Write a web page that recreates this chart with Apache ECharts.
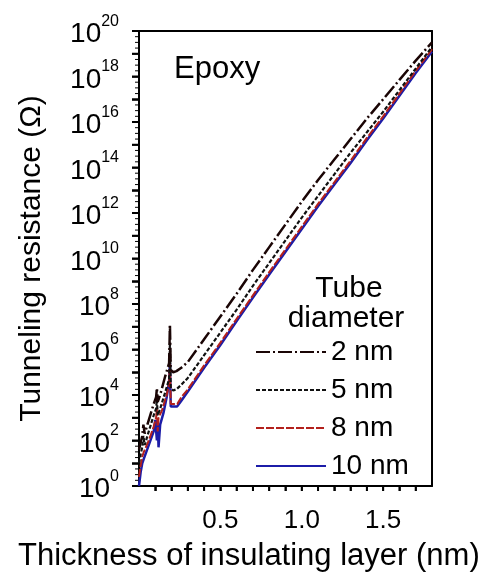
<!DOCTYPE html>
<html>
<head>
<meta charset="utf-8">
<script src="https://cdn.jsdelivr.net/npm/echarts@6/dist/echarts.min.js"></script>
<style>
html,body{margin:0;padding:0;background:#fff;}
#chart{width:481px;height:578px;background:#fff;}
</style>
</head>
<body>
<div id="chart"></div>
<script>
// Thickness of insulating layer (nm) and log10 of tunneling resistance (Ω)
const x_2nm = [0.0, 0.01, 0.02, 0.027, 0.035, 0.06, 0.09, 0.105, 0.11, 0.115, 0.13, 0.16, 0.185, 0.19, 0.195, 0.21, 0.23, 0.26, 0.3, 0.4, 0.5, 0.6, 0.7, 0.8, 0.9, 1.0, 1.1, 1.2, 1.3, 1.4, 1.5, 1.6, 1.7, 1.8];
const logR_2nm = [1.6, 1.9, 2.2, 2.7, 2.3, 2.9, 3.6, 3.9, 4.3, 3.7, 4.0, 4.8, 5.4, 7.1, 5.1, 5.0, 5.05, 5.2, 5.45, 6.45, 7.45, 8.45, 9.5, 10.5, 11.5, 12.5, 13.45, 14.35, 15.25, 16.15, 17.0, 17.85, 18.7, 19.5];

const x_5nm = [0.0, 0.01, 0.02, 0.027, 0.035, 0.06, 0.09, 0.105, 0.11, 0.115, 0.13, 0.16, 0.185, 0.19, 0.195, 0.21, 0.23, 0.26, 0.3, 0.4, 0.5, 0.6, 0.7, 0.8, 0.9, 1.0, 1.1, 1.2, 1.3, 1.4, 1.5, 1.6, 1.7, 1.8];
const logR_5nm = [1.0, 1.4, 1.7, 2.2, 1.8, 2.4, 3.1, 3.4, 3.8, 3.1, 3.4, 4.1, 4.7, 6.3, 4.3, 4.2, 4.25, 4.45, 4.75, 5.75, 6.75, 7.75, 8.8, 9.8, 10.8, 11.8, 12.75, 13.7, 14.65, 15.55, 16.45, 17.4, 18.35, 19.3];

const x_8nm = [0.0, 0.01, 0.02, 0.03, 0.06, 0.09, 0.105, 0.11, 0.115, 0.12, 0.14, 0.17, 0.185, 0.19, 0.195, 0.235, 0.26, 0.3, 0.4, 0.5, 0.6, 0.7, 0.8, 0.9, 1.0, 1.1, 1.2, 1.3, 1.4, 1.5, 1.6, 1.7, 1.8];
const logR_8nm = [0.4, 0.9, 1.3, 1.5, 2.0, 2.6, 3.0, 3.4, 2.4, 3.0, 3.3, 4.0, 4.5, 5.6, 3.6, 3.6, 3.9, 4.25, 5.3, 6.3, 7.35, 8.38, 9.4, 10.4, 11.4, 12.4, 13.35, 14.3, 15.3, 16.25, 17.25, 18.25, 19.2];

const x_10nm = [0.0, 0.01, 0.02, 0.03, 0.06, 0.09, 0.1, 0.11, 0.115, 0.12, 0.13, 0.15, 0.17, 0.185, 0.19, 0.195, 0.235, 0.26, 0.3, 0.4, 0.5, 0.6, 0.7, 0.8, 0.9, 1.0, 1.1, 1.2, 1.3, 1.4, 1.5, 1.6, 1.7, 1.8];
const logR_10nm = [0.0, 0.6, 1.0, 1.2, 1.8, 2.4, 2.9, 2.0, 2.9, 1.7, 2.7, 3.2, 3.9, 4.6, 5.4, 3.5, 3.5, 3.75, 4.15, 5.2, 6.2, 7.25, 8.28, 9.3, 10.3, 11.3, 12.3, 13.25, 14.2, 15.2, 16.15, 17.15, 18.15, 19.1];

const seriesNames = ['2 nm', '5 nm', '8 nm', '10 nm'];
const xTickLabels = ['0.0', '0.5', '1.0', '1.5', '1.8'];

function toData(xs, ls) { return xs.map((x, i) => [x, Math.pow(10, ls[i])]); }

const FONT = 'Liberation Sans, Arial, sans-serif';
const chart = echarts.init(document.getElementById('chart'), null, {renderer: 'canvas'});

const blackLine = {show: true, lineStyle: {color: '#000', width: 2}};

const option = {
  animation: false,
  grid: {left: 139, top: 31, right: 49, bottom: 92},
  title: {
    text: 'Thickness of insulating layer (nm)',
    left: 13, top: 536,
    textStyle: {fontFamily: FONT, fontSize: 31, fontWeight: 'normal', color: '#000'}
  },
  legend: {
    show: true,
    orient: 'vertical', left: 250, top: 333,
    itemWidth: 70, itemHeight: 14, itemGap: 10,
    itemStyle: {opacity: 0},
    data: seriesNames,
    textStyle: {fontFamily: FONT, fontSize: 28, color: '#000'}
  },
  graphic: [
    {type: 'text', left: 174, top: 54, style: {text: 'Epoxy', font: '31px ' + FONT, fill: '#000'}},
    {type: 'text', x: 349, y: 304, style: {text: 'Tube', font: '30px ' + FONT, fill: '#000', align: 'center', verticalAlign: 'bottom'}},
    {type: 'text', x: 346, y: 334, style: {text: 'diameter', font: '30px ' + FONT, fill: '#000', align: 'center', verticalAlign: 'bottom'}}
  ],
  xAxis: [{
    type: 'value', min: 0, max: 1.8, interval: 0.1,
    axisLine: blackLine,
    axisTick: {show: true, length: 5, lineStyle: {color: '#000', width: 1.5}},
    splitLine: {show: false},
    axisLabel: {
      margin: 0, hideOverlap: false,
      fontFamily: FONT, fontSize: 26, color: '#000',
      formatter: function (v) {
        const r = Math.round(v * 10);
        const s = (r / 10).toFixed(1);
        return xTickLabels.indexOf(s) >= 0 ? '{t| }\n{l|' + s + '}' : '{t| }';
      },
      rich: {
        t: {width: 2, height: 5, lineHeight: 5, fontSize: 1, backgroundColor: '#000'},
        l: {fontFamily: FONT, fontSize: 26, color: '#000', padding: [17, 0, 0, 0]}
      }
    }
  }, {
    type: 'value', min: 0, max: 1.8, position: 'top',
    axisLine: blackLine,
    axisTick: {show: false}, axisLabel: {show: false}, splitLine: {show: false}
  }],
  yAxis: [{
    type: 'log', logBase: 10, min: 1, max: 1e20, interval: 1,
    name: 'Tunneling resistance (Ω)', nameLocation: 'middle', nameGap: 92,
    nameTextStyle: {fontFamily: FONT, fontSize: 30, color: '#000'},
    axisLine: blackLine,
    axisTick: {show: true, length: 7, lineStyle: {color: '#000', width: 1.5}},
    splitLine: {show: false},
    axisLabel: {
      margin: 0, hideOverlap: false,
      formatter: function (v) {
        const e = Math.round(Math.log10(v));
        return e % 2 === 0 ? '{b|10}{s|' + e + '}{g| }{t| }' : '{g| }{t| }';
      },
      rich: {
        b: {fontFamily: FONT, fontSize: 28, color: '#000', padding: [7, 0, 0, 0]},
        s: {fontFamily: FONT, fontSize: 16, color: '#000', verticalAlign: 'top'},
        g: {width: 13, fontSize: 1},
        t: {width: 7, height: 2, fontSize: 1, backgroundColor: '#000', verticalAlign: 'middle'}
      }
    }
  }, {
    // minor tick marks of the log axis
    type: 'log', logBase: 10, min: 1, max: 1e20, interval: 0.25, position: 'left',
    axisLine: {show: false}, axisTick: {show: false}, splitLine: {show: false},
    axisLabel: {
      margin: 0, hideOverlap: false,
      formatter: function (v) {
        const e = Math.log10(v);
        return Math.abs(e - Math.round(e)) < 0.01 ? '' : '{m| }';
      },
      rich: {m: {width: 4, height: 1, fontSize: 1, backgroundColor: '#000'}}
    }
  }, {
    type: 'value', min: 0, max: 1, position: 'right',
    axisLine: blackLine,
    axisTick: {show: false}, axisLabel: {show: false}, splitLine: {show: false}
  }],
  series: [
    {name: seriesNames[0], type: 'line', symbol: 'none', z: 5, data: toData(x_2nm, logR_2nm),
      lineStyle: {color: '#1a0505', width: 2.5, type: [14, 3, 2, 3]}, itemStyle: {color: '#1a0505'}},
    {name: seriesNames[1], type: 'line', symbol: 'none', z: 4, data: toData(x_5nm, logR_5nm),
      lineStyle: {color: '#111', width: 2.2, type: [4, 2]}, itemStyle: {color: '#111'}},
    {name: seriesNames[2], type: 'line', symbol: 'none', z: 3, data: toData(x_8nm, logR_8nm),
      lineStyle: {color: '#b3201c', width: 2, type: [8, 2]}, itemStyle: {color: '#b3201c'}},
    {name: seriesNames[3], type: 'line', symbol: 'none', z: 2, data: toData(x_10nm, logR_10nm),
      lineStyle: {color: '#1c1ca8', width: 2.5, type: 'solid'}, itemStyle: {color: '#1c1ca8'}}
  ]
};
chart.setOption(option);
</script>
</body>
</html>
